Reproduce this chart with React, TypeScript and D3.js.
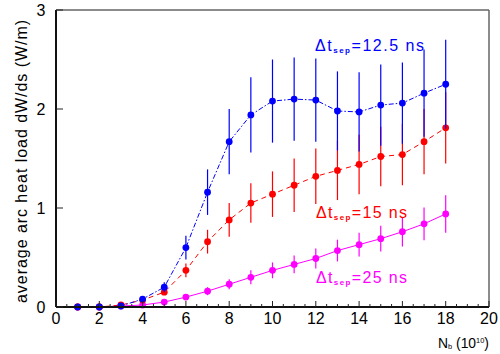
import React from "react";
import * as d3 from "d3";

const nb = [1, 2, 3, 4, 5, 6, 7, 8, 9, 10, 11, 12, 13, 14, 15, 16, 17, 18];

const blueVals = [0, 0, 0.01, 0.08, 0.2, 0.6, 1.16, 1.67, 1.94, 2.08, 2.1, 2.09, 1.98, 1.97, 2.04, 2.06, 2.16, 2.25];
const blueErr = [0, 0, 0.01, 0.02, 0.05, 0.12, 0.23, 0.33, 0.38, 0.42, 0.42, 0.42, 0.4, 0.4, 0.41, 0.41, 0.44, 0.45];

const redVals = [0, 0, 0.02, 0.07, 0.15, 0.37, 0.66, 0.88, 1.05, 1.14, 1.23, 1.32, 1.38, 1.44, 1.52, 1.54, 1.67, 1.81];
const redErr = [0, 0, 0.01, 0.02, 0.03, 0.07, 0.12, 0.17, 0.2, 0.23, 0.27, 0.28, 0.3, 0.3, 0.3, 0.31, 0.33, 0.36];

const magVals = [0, 0, 0.01, 0.02, 0.05, 0.1, 0.16, 0.23, 0.3, 0.37, 0.43, 0.49, 0.57, 0.63, 0.69, 0.76, 0.84, 0.94];
const magErr = [0, 0, 0, 0.01, 0.02, 0.03, 0.04, 0.05, 0.07, 0.08, 0.09, 0.1, 0.11, 0.12, 0.13, 0.15, 0.165, 0.19];

const xTicks = [0, 2, 4, 6, 8, 10, 12, 14, 16, 18, 20];
const yTicks = [0, 1, 2, 3];

const FONT = "'Liberation Sans', Arial, Helvetica, sans-serif";

export default function App() {
  const W = 500, H = 354;
  const left = 56, right = 489, top = 10, bottom = 307;
  const x = d3.scaleLinear().domain([0, 20]).range([left, right]);
  const y = d3.scaleLinear().domain([0, 3]).range([bottom, top]);

  const series = [
    { vals: blueVals, err: blueErr, color: "#0000ff", dash: "5,2,1.5,2" },
    { vals: redVals, err: redErr, color: "#ff0000", dash: "5,4" },
    { vals: magVals, err: magErr, color: "#ff00ff", dash: "" },
  ];

  const line = d3.line<number>().x((_, i) => x(nb[i])).y((v) => y(v));
  const minorTicks = d3.range(0, 20.01, 0.5).filter((v) => v % 2 !== 0);

  return (
    <svg width={W} height={H} style={{ position: "absolute", left: 0, top: 0, background: "#fff" }} fontFamily={FONT}>
      <rect x={0} y={0} width={W} height={H} fill="#fff" />
      {/* frame */}
      <line x1={left} x2={right} y1={top} y2={top} stroke="#666" strokeWidth={1.5} />
      <line x1={right} x2={right} y1={top} y2={bottom} stroke="#666" strokeWidth={1.5} />
      {/* series (draw magenta first, then red, then blue) */}
      {[...series].reverse().map((s, si) => (
        <g key={si}>
          {s.vals.map((v, i) =>
            s.err[i] > 0.015 ? (
              <line key={i} x1={x(nb[i])} x2={x(nb[i])} y1={y(v - s.err[i])} y2={y(v + s.err[i])} stroke={s.color} strokeWidth={1.2} />
            ) : null
          )}
          <path d={line(s.vals) || ""} fill="none" stroke={s.color} strokeWidth={1} strokeDasharray={s.dash} />
          {s.vals.map((v, i) => (
            <circle key={i} cx={x(nb[i])} cy={y(v)} r={3.4} fill={s.color} />
          ))}
        </g>
      ))}
      {/* axes */}
      <line x1={left} x2={right} y1={bottom} y2={bottom} stroke="#111" strokeWidth={2} />
      <line x1={left} x2={left} y1={top} y2={bottom} stroke="#111" strokeWidth={2} />
      {xTicks.map((t) => (
        <g key={t}>
          <line x1={x(t)} x2={x(t)} y1={bottom} y2={bottom - 6} stroke="#222" strokeWidth={1} />
          <text x={x(t)} y={323.5} textAnchor="middle" fontSize={16} fill="#000">{t}</text>
        </g>
      ))}
      {minorTicks.map((t) => (
        <line key={t} x1={x(t)} x2={x(t)} y1={bottom} y2={bottom - 3} stroke="#222" strokeWidth={1} />
      ))}
      {yTicks.map((t) => (
        <g key={t}>
          <line x1={left} x2={left + 7} y1={y(t)} y2={y(t)} stroke="#222" strokeWidth={1} />
          <text x={45.5} y={y(t) + 6} textAnchor="end" fontSize={16} fill="#000">{t}</text>
        </g>
      ))}
      {/* y title */}
      <text transform={`translate(27,161.5) rotate(-90)`} textAnchor="middle" fontSize={16} fill="#000"
        textLength={283} lengthAdjust="spacing">
        average arc heat load dW/ds (W/m)
      </text>
      {/* x title */}
      <text x={438} y={347.5} fontSize={15} fill="#000" textLength={51} lengthAdjust="spacingAndGlyphs">
        N<tspan fontSize={8} dy={1.5}>b</tspan>
        <tspan dy={-1.5}> (10</tspan>
        <tspan fontSize={8} dy={-5}>10</tspan>
        <tspan dy={5}>)</tspan>
      </text>
      {/* legend labels */}
      <text x={315} y={50.5} fontSize={16} fill="#0000ff" textLength={109} lengthAdjust="spacing">
        Δt<tspan fontSize={8} dy={2} fontWeight="bold">sep</tspan><tspan dy={-2}>=12.5 ns</tspan>
      </text>
      <text x={316} y={218} fontSize={16} fill="#ff0000" textLength={91} lengthAdjust="spacing">
        Δt<tspan fontSize={8} dy={2} fontWeight="bold">sep</tspan><tspan dy={-2}>=15 ns</tspan>
      </text>
      <text x={316} y={283} fontSize={16} fill="#ff00ff" textLength={91} lengthAdjust="spacing">
        Δt<tspan fontSize={8} dy={2} fontWeight="bold">sep</tspan><tspan dy={-2}>=25 ns</tspan>
      </text>
    </svg>
  );
}
